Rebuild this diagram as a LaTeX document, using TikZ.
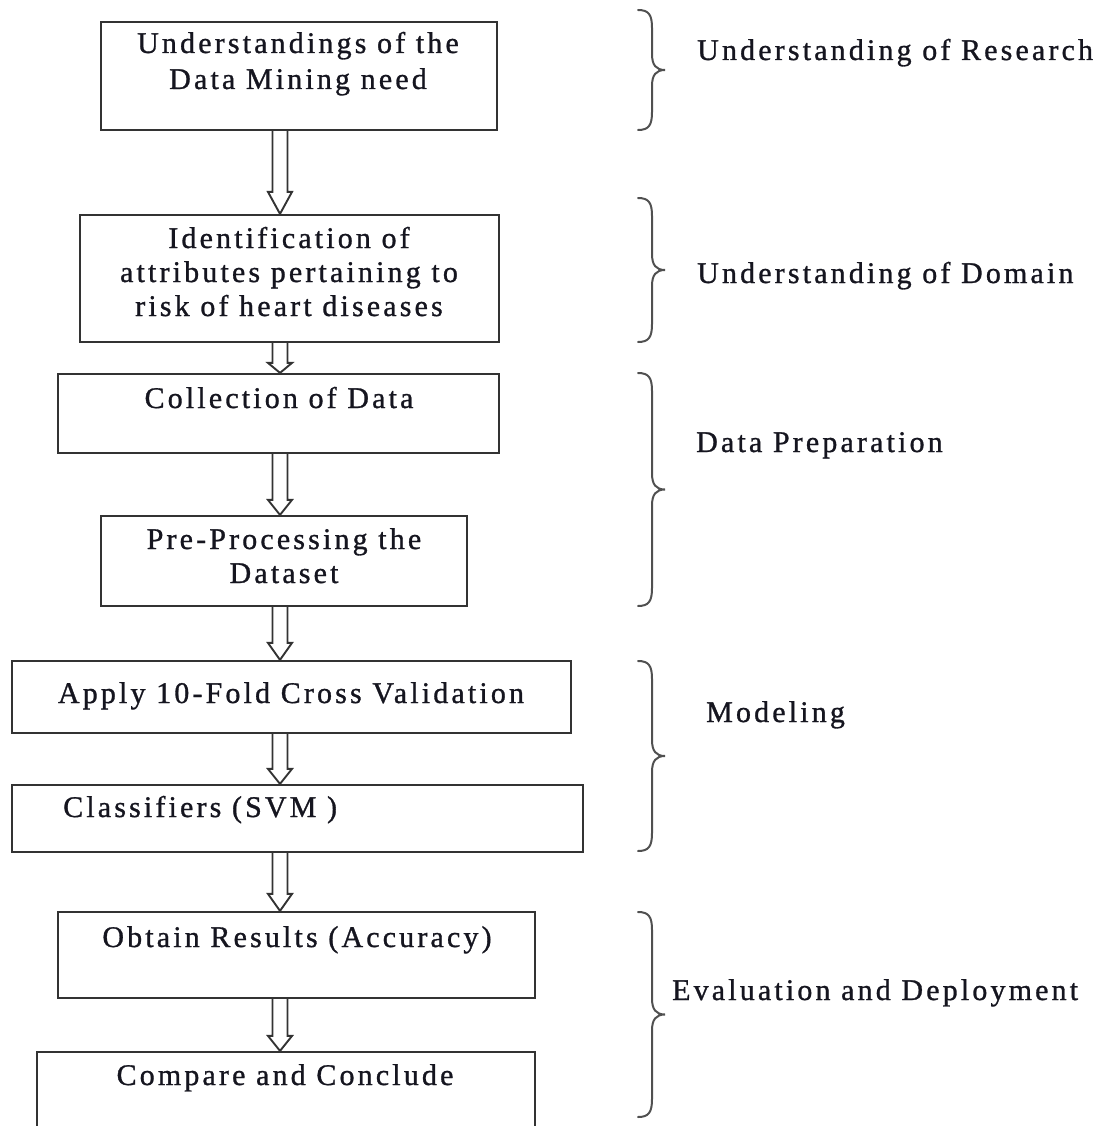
\documentclass[tikz,border=0pt]{standalone}
\usepackage{fontspec}
\setmainfont{Liberation Serif}[LetterSpace=10.5, FakeBold=1]
\usetikzlibrary{calc,fit}

\definecolor{ink}{HTML}{15151F}
\definecolor{frame}{HTML}{333333}
\definecolor{bracecol}{HTML}{505050}

\tikzset{
  box/.style={draw=frame, line width=2.2pt, inner sep=0pt},
  lbl/.style={text=ink, align=center, inner sep=0pt, anchor=base,
              font=\fontsize{30}{35}\selectfont},
  phase/.style={text=ink, anchor=base west, inner sep=0pt,
                font=\fontsize{30}{35}\selectfont},
  hollow/.style={draw=frame, line width=1.9pt, line join=miter},
  curly/.style={draw=bracecol, line width=2pt, line cap=round},
}

% open double-shaft arrow with a hollow triangular head, on the common axis
\newcommand{\hollowarrow}[3]{%
  \draw[hollow] ($(#1.south -| axis)+(-7.5,0)$)
     -- ($(#2.north -| axis)+(-7.5,-#3)$) -- ++(-4.5,0)
     -- (#2.north -| axis)
     -- ($(#2.north -| axis)+(12,-#3)$) -- ++(-4.5,0)
     -- ($(#1.south -| axis)+(7.5,0)$);}

% curly brace grouping the steps of one phase (top y, bottom y)
\newcommand{\phasebrace}[2]{%
  \pgfmathsetmacro{\bm}{(#1+#2)/2}%
  \draw[curly] (638,#1) .. controls (649,#1) and (652,#1+5) .. (652,#1+18)
     -- (652,\bm-16) .. controls (652,\bm-5) and (656,\bm) .. (665,\bm)
     .. controls (656,\bm) and (652,\bm+5) .. (652,\bm+16)
     -- (652,#2-18) .. controls (652,#2-5) and (649,#2) .. (638,#2);}

\begin{document}
\begin{tikzpicture}[x=1pt, y=-1pt]
  \useasboundingbox (0,0) rectangle (1108,1126);
  \clip (0,0) rectangle (1108,1126);

  \coordinate (axis) at (280,0);

  % process steps
  \node[box, fit={(101,22) (497,130)}]   (b1) {};
  \node[box, fit={(80,215) (499,342)}]   (b2) {};
  \node[box, fit={(58,374) (499,453)}]   (b3) {};
  \node[box, fit={(101,516) (467,606)}]  (b4) {};
  \node[box, fit={(12,661) (571,733)}]   (b5) {};
  \node[box, fit={(12,785) (583,852)}]   (b6) {};
  \node[box, fit={(58,912) (535,998)}]   (b7) {};
  \node[box, fit={(37,1052) (535,1160)}] (b8) {};

  % step texts (multi-line texts sit on the baseline of their last line)
  \node[lbl, font=\fontsize{30}{36}\selectfont] (t1) at (298,89)
       {Understandings of the\\Data Mining need};
  \node[lbl, font=\fontsize{30}{34}\selectfont] (t2) at (289,316)
       {Identification of\\attributes pertaining to\\risk of heart diseases};
  \node[lbl] (t3) at (279,408) {Collection of Data};
  \node[lbl, font=\fontsize{30}{34}\selectfont] (t4) at (284,583)
       {Pre-Processing the\\Dataset};
  \node[lbl] (t5) at (291,703) {Apply 10-Fold Cross Validation};
  \node[lbl, anchor=base west] (t6) at (63,817) {Classifiers (SVM )};
  \node[lbl] (t7) at (297,947) {Obtain Results (Accuracy)};
  \node[lbl] (t8) at (285,1085) {Compare and Conclude};

  % flow between steps
  \hollowarrow{b1}{b2}{22}
  \hollowarrow{b2}{b3}{10}
  \hollowarrow{b3}{b4}{15}
  \hollowarrow{b4}{b5}{17}
  \hollowarrow{b5}{b6}{15}
  \hollowarrow{b6}{b7}{17}
  \hollowarrow{b7}{b8}{15}

  % phases
  \phasebrace{10}{130}
  \phasebrace{198}{342}
  \phasebrace{373}{606}
  \phasebrace{661}{851}
  \phasebrace{912}{1117}

  \node[phase] (p1) at (697,60)   {Understanding of Research};
  \node[phase] (p2) at (697,283)  {Understanding of Domain};
  \node[phase] (p3) at (696,452)  {Data Preparation};
  \node[phase] (p4) at (706,722)  {Modeling};
  \node[phase] (p5) at (672,1000) {Evaluation and Deployment};
\end{tikzpicture}
\end{document}
